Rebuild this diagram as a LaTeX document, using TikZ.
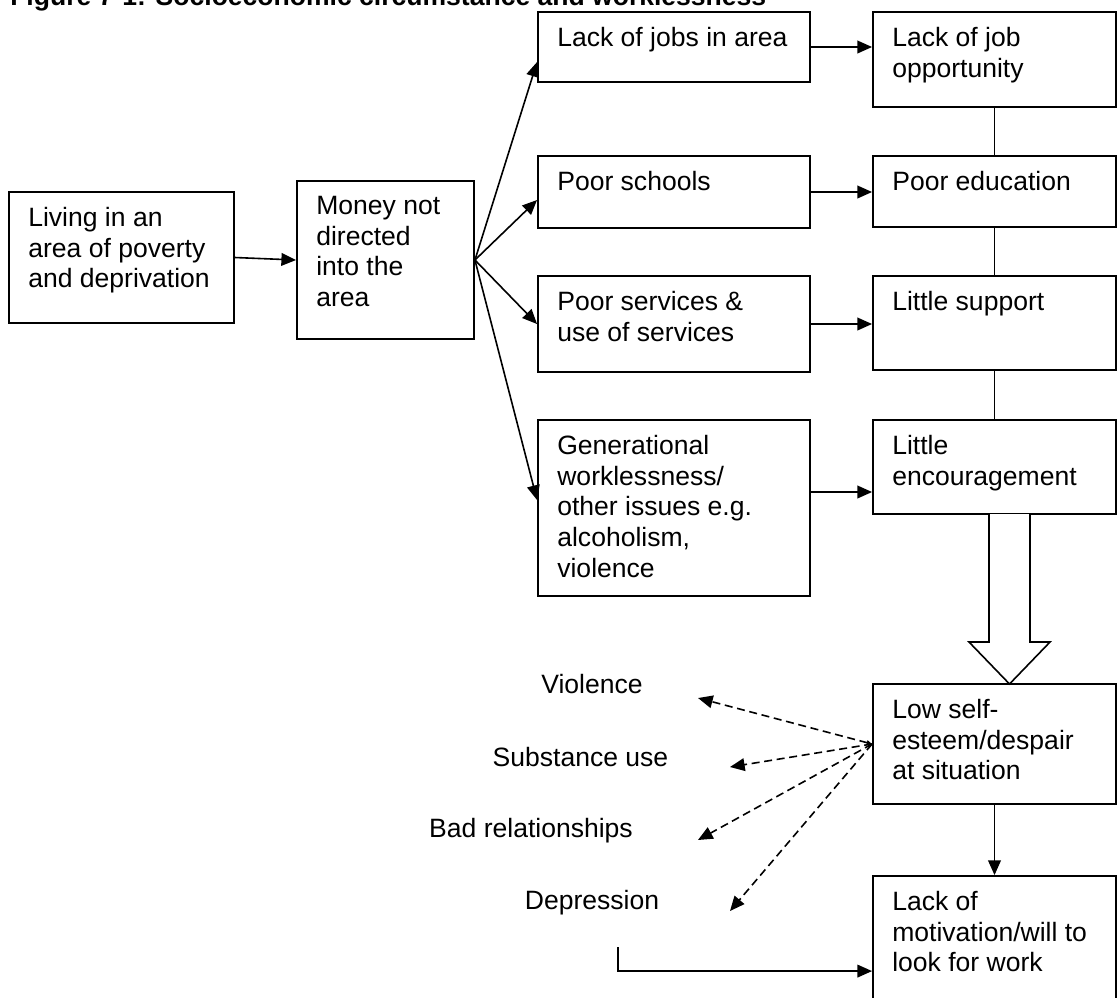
\documentclass[tikz,border=0pt]{standalone}
\usepackage{fontspec}
\setmainfont{Liberation Sans}
\usetikzlibrary{arrows.meta,positioning,fit}

\tikzset{
    box/.style={draw, line width=1.4pt, inner sep=0pt},
    txt/.style={anchor=north west, inner sep=0pt, align=left, font=\fontsize{19.9}{23}\selectfont},
    lbl/.style={anchor=base, inner sep=0pt, font=\fontsize{19.9}{23}\selectfont},
    arr/.style={line width=1.2pt, -{Triangle[length=11pt,width=9.5pt]}},
    dasharr/.style={arr, dash pattern=on 6pt off 3.5pt},
    link/.style={line width=1.2pt}
}

\begin{document}
\begin{tikzpicture}[x=0.75pt,y=0.75pt,yscale=-1,xscale=1]
        \fill[white] (0,0) rectangle (1117,997);
        \useasboundingbox (0,0) rectangle (1117,997);

        \node[anchor=base west, inner sep=0pt, font=\bfseries\fontsize{19.9}{23}\selectfont] (title) at (10,5) {Figure 7-1: Socioeconomic circumstance and worklessness};

        % boxes
        \node[box, fit={(9,192) (234,323)}] (living) {};
        \node[box, fit={(297,181) (474,339)}] (money) {};
        \node[box, fit={(538,12) (810,82)}] (jobs) {};
        \node[box, fit={(538,156) (810,228)}] (schools) {};
        \node[box, fit={(538,276) (810,372)}] (services) {};
        \node[box, fit={(538,420) (810,596)}] (gen) {};
        \node[box, fit={(873,12) (1116,107)}] (opp) {};
        \node[box, fit={(873,156) (1116,227)}] (edu) {};
        \node[box, fit={(873,276) (1116,370)}] (support) {};
        \node[box, fit={(873,420) (1116,514)}] (enc) {};
        \node[box, fit={(873,684) (1116,804)}] (low) {};
        \node[box, fit={(873,876) (1116,1012)}] (motiv) {};

        \node[txt, below right=12pt and 15pt of living.north west] (living-t) {Living in an\\area of poverty\\and deprivation};
        \node[txt, below right=12pt and 15pt of money.north west] (money-t) {Money not\\directed\\into the\\area};
        \node[txt, below right=12pt and 15pt of jobs.north west] (jobs-t) {Lack of jobs in area};
        \node[txt, below right=12pt and 15pt of schools.north west] (schools-t) {Poor schools};
        \node[txt, below right=12pt and 15pt of services.north west] (services-t) {Poor services \&\\use of services};
        \node[txt, below right=12pt and 15pt of gen.north west] (gen-t) {Generational\\worklessness/\\other issues e.g.\\alcoholism,\\violence};
        \node[txt, below right=12pt and 15pt of opp.north west] (opp-t) {Lack of job\\opportunity};
        \node[txt, below right=12pt and 15pt of edu.north west] (edu-t) {Poor education};
        \node[txt, below right=12pt and 15pt of support.north west] (support-t) {Little support};
        \node[txt, below right=12pt and 15pt of enc.north west] (enc-t) {Little\\encouragement};
        \node[txt, below right=12pt and 15pt of low.north west] (low-t) {Low self-\\esteem/despair\\at situation};
        \node[txt, below right=12pt and 15pt of motiv.north west] (motiv-t) {Lack of\\motivation/will to\\look for work};

        % outcomes
        \node[lbl] (viol) at (592,693) {Violence};
        \node[lbl] (subst) at (580.5,766) {Substance use};
        \node[lbl] (rel) at (531,837) {Bad relationships};
        \node[lbl] (depr) at (592,909) {Depression};

        \coordinate (viol-end) at (698,698);
        \coordinate (subst-end) at (730,767);
        \coordinate (rel-end) at (698,840);
        \coordinate (depr-end) at (730,911);
        \coordinate (lstart) at (618,947);

        % arrows
        \draw[arr] (living.east) -- (money.west);
        \draw[arr] (money.east) -- ([yshift=11.25pt]jobs.west);
        \draw[arr] (money.east) -- ([yshift=6pt]schools.west);
        \draw[arr] (money.east) -- (services.west);
        \draw[arr] (money.east) -- ([yshift=-6pt]gen.west);
        \draw[arr] (jobs.east) -- (jobs.east -| opp.west);
        \draw[arr] (schools.east) -- (schools.east -| edu.west);
        \draw[arr] (services.east) -- (services.east -| support.west);
        \draw[arr] ([yshift=-12pt]gen.east) -- ([yshift=-12pt]gen.east -| enc.west);
        \draw[link] (opp.south) -- (edu.north);
        \draw[link] (edu.south) -- (support.north);
        \draw[link] (support.south) -- (enc.north);
        \draw[line width=1.2pt, fill=white] (989,514) -- (989,642) -- (969,642) -- (1009.5,684) -- (1050,642) -- (1030,642) -- (1030,514);
        \draw[arr] (low.south) -- (motiv.north);
        \draw[dasharr, {Triangle[length=4pt,width=3.5pt]}-{Triangle[length=11pt,width=9.5pt]}] (low.west) -- (viol-end);
        \draw[dasharr] (low.west) -- (subst-end);
        \draw[dasharr] (low.west) -- (rel-end);
        \draw[dasharr] (low.west) -- (depr-end);
        \draw[arr] (lstart) |- ([yshift=72pt]motiv.north west);
\end{tikzpicture}
\end{document}
